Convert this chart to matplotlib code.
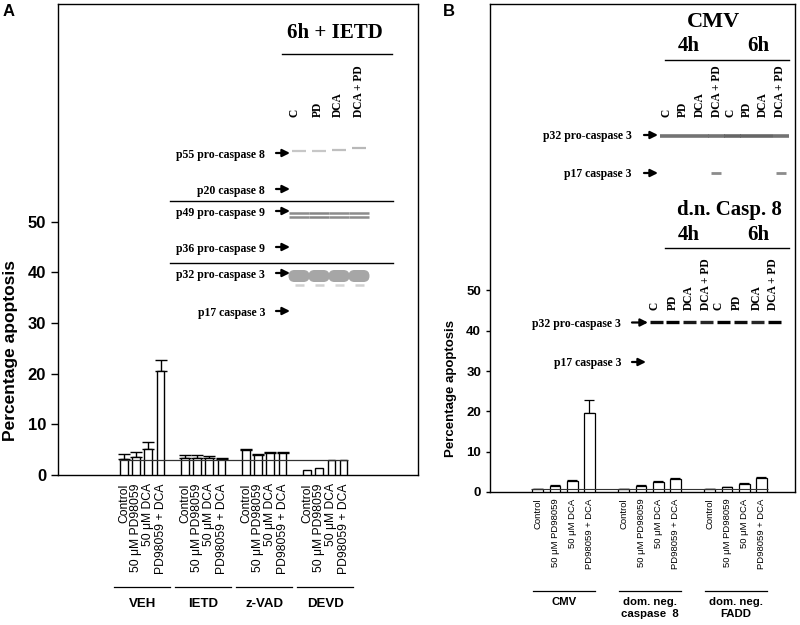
import numpy as np
import matplotlib.pyplot as plt
from matplotlib.patches import FancyBboxPatch
import matplotlib.transforms as mtransforms

plt.rcParams['font.family'] = ['Liberation Sans', 'DejaVu Sans']
SERIF = ['Liberation Serif', 'DejaVu Serif']

# ---- bar data ----
treatments = ['Control', '50 \u03bcM PD98059', '50 \u03bcM DCA', 'PD98059 + DCA']

groups_a = ['VEH', 'IETD', 'z-VAD', 'DEVD']
apop_a = [[3.1, 3.5, 5.2, 20.5],
          [3.3, 3.3, 3.3, 3.15],
          [4.9, 4.0, 4.4, 4.25],
          [1.0, 1.3, 2.9, 2.9]]
err_a = [[1.0, 0.95, 1.4, 2.2],
         [0.6, 0.6, 0.5, 0.15],
         [0.3, 0.1, 0.1, 0.2],
         [0.0, 0.0, 0.0, 0.0]]
ref_a = 2.95

groups_b = ['CMV', 'dom. neg.\ncaspase  8', 'dom. neg.\nFADD']
apop_b = [[0.75, 1.4, 2.7, 19.7],
          [0.75, 1.55, 2.6, 3.3],
          [0.75, 1.15, 2.1, 3.5]]
err_b = [[0.05, 0.35, 0.2, 3.2],
         [0.05, 0.25, 0.15, 0.1],
         [0.05, 0.2, 0.1, 0.1]]
ref_b = 0.7

# ---- blot data (relative band darkness per lane) ----
lanes_a = ['C', 'PD', 'DCA', 'DCA + PD']
rows_a = ['p55 pro-caspase 8', 'p20 caspase 8', 'p49 pro-caspase 9',
          'p36 pro-caspase 9', 'p32 pro-caspase 3', 'p17 caspase 3']
p55_a = [0.22, 0.22, 0.25, 0.28]
p49_a = [0.45, 0.48, 0.45, 0.45]
p32_a = [0.35, 0.35, 0.35, 0.35]
p32low_a = [0.18, 0.18, 0.16, 0.18]

lanes_b = ['C', 'PD', 'DCA', 'DCA + PD'] * 2
p32_cmv = [0.55, 0.55, 0.55, 0.55, 0.6, 0.6, 0.6, 0.55]
p17_cmv = [0, 0, 0, 0.45, 0, 0, 0, 0.45]
p32_dn8 = [0.95, 1.0, 0.9, 0.85, 1.0, 0.95, 0.85, 1.0]


def draw_bars(ax, values, errors, ref, width, capsize, lw, fsize, pad):
    ticks = []
    for g, vals in enumerate(values):
        pos = g * 5 + np.arange(len(vals))
        ax.bar(pos, vals, width, color='white', edgecolor='black', linewidth=lw, zorder=3)
        e = np.array(errors[g])
        keep = e > 0
        ax.errorbar(pos[keep], np.array(vals)[keep], yerr=[np.zeros(keep.sum()), e[keep]],
                    fmt='none', ecolor='black', elinewidth=lw, capsize=capsize,
                    capthick=lw, zorder=2)
        ticks.extend(pos)
    ax.hlines(ref, -0.4, ticks[-1] + 0.4, color='#333333', lw=lw * 0.9, zorder=4)
    ax.set_xticks(ticks)
    ax.set_xticklabels(treatments * len(values), rotation=90, fontsize=fsize)
    ax.tick_params(axis='x', length=0, pad=pad)
    ax.set_yticks(range(0, 51, 10))
    for s in ax.spines.values():
        s.set_linewidth(1.0)


def group_labels(ax, names, line_y, text_y, half, fsize):
    tr = mtransforms.blended_transform_factory(ax.transData, ax.transAxes)
    for g, name in enumerate(names):
        c = g * 5 + 1.5
        ax.plot([c - half, c + half], [line_y, line_y], color='black', lw=0.9,
                transform=tr, clip_on=False)
        ax.text(c, text_y, name, transform=tr, ha='center', va='top', fontsize=fsize,
                fontweight='bold', linespacing=1.3)


fig = plt.figure(figsize=(8, 6.25), dpi=100)

# ---- panel A ----
axA = fig.add_axes([58 / 800, 150 / 625, 360 / 800, 471 / 625])
draw_bars(axA, apop_a, err_a, ref_a, 0.63, 4.5, 1.0, 8.7, 6)
axA.set_xlim(-5.4, 24.1)
axA.set_ylim(0, 93)
axA.tick_params(axis='y', length=5, width=1, pad=3.5, labelsize=12)
for t in axA.get_yticklabels():
    t.set_fontweight('bold')
axA.set_ylabel('Percentage apoptosis', fontsize=12.5, fontweight='bold')
axA.yaxis.set_label_coords(-0.11, 0.265)
group_labels(axA, groups_a, -0.238, -0.262, 2.3, 9.5)

# ---- panel B ----
axB = fig.add_axes([490 / 800, 133 / 625, 305 / 800, 488 / 625])
draw_bars(axB, apop_b, err_b, ref_b, 0.63, 3.5, 0.9, 6.8, 4.5)
axB.set_xlim(-2.78, 14.95)
axB.set_ylim(0, 121)
axB.tick_params(axis='y', length=3, width=1, pad=3.4, labelsize=9.5)
for t in axB.get_yticklabels():
    t.set_fontweight('bold')
axB.set_ylabel('Percentage apoptosis', fontsize=9.5, fontweight='bold')
axB.yaxis.set_label_coords(-0.108, 0.213)
group_labels(axB, groups_b, -0.202, -0.215, 1.8, 8.2)

fig.text(9 / 800, 1 - 12 / 625, 'A', fontsize=12, fontweight='bold', ha='center', va='center')
fig.text(449 / 800, 1 - 12 / 625, 'B', fontsize=12, fontweight='bold', ha='center', va='center')

# ---- blot overlay (pixel coordinates) ----
ov = fig.add_axes([0, 0, 1, 1], zorder=5)
ov.set_xlim(0, 800)
ov.set_ylim(625, 0)
ov.axis('off')
ov.patch.set_alpha(0)


def gray(level):
    v = 1 - level
    return (v, v, v)


def arrow(x0, x1, y):
    ov.annotate('', xy=(x1, y), xytext=(x0, y),
                arrowprops=dict(arrowstyle='-|>', color='black', lw=1.6, mutation_scale=11,
                                shrinkA=0, shrinkB=0))


def row_label(text, x_right, y, fsize=8.5):
    ov.text(x_right, y, text, ha='right', va='center', fontsize=fsize, fontweight='bold',
            family=SERIF)


def lane_labels(names, xs, y_bottom, fsize=8.3):
    for name, x in zip(names, xs):
        ov.text(x, y_bottom, name, rotation=90, ha='center', va='bottom', fontsize=fsize,
                fontweight='bold', family=SERIF)


def bands(xs, levels, y, w, h, dy=None, rounded=False):
    for i, (x, lv) in enumerate(zip(xs, levels)):
        if lv <= 0:
            continue
        yy = y + (dy[i] if dy is not None else 0)
        if rounded:
            p = FancyBboxPatch((x - w / 2, yy - h / 2), w, h,
                               boxstyle='round,pad=0,rounding_size=%.1f' % (h / 2),
                               fc=gray(lv), ec='none')
            ov.add_patch(p)
        else:
            ov.plot([x - w / 2, x + w / 2], [yy, yy], color=gray(lv), lw=h,
                    solid_capstyle='butt')


# panel A blot
xa = [299, 319, 339, 359]
ov.text(335, 33, '6h + IETD', ha='center', va='center', fontsize=15, fontweight='bold',
        family=SERIF)
ov.plot([282, 392], [54, 54], color='black', lw=1)
lane_labels(lanes_a, [295, 318, 338, 359], 117)
row_y_a = [155, 191, 213, 249, 275, 313]
for name, y in zip(rows_a, row_y_a):
    row_label(name, 265, y)
    arrow(276, 290, y - 2)
ov.plot([170, 393], [201, 201], color='black', lw=1)
ov.plot([170, 393], [263, 263], color='black', lw=1)
bands(xa, p55_a, 151, 14, 1.6, dy=[0, 0, -1, -3])
bands(xa, p49_a, 213, 20, 1.8)
bands(xa, p49_a, 217, 20, 1.8)
bands(xa, p32_a, 276, 21, 12, rounded=True)
bands(xa, p32low_a, 285, 9, 1.8)

# panel B blot, CMV
ov.text(713, 22, 'CMV', ha='center', va='center', fontsize=16, fontweight='bold', family=SERIF)
ov.text(689, 46, '4h', ha='center', va='center', fontsize=15, fontweight='bold', family=SERIF)
ov.text(758, 46, '6h', ha='center', va='center', fontsize=15, fontweight='bold', family=SERIF)
ov.plot([665, 789], [60, 60], color='black', lw=1)
lane_labels(lanes_b, [667, 683, 700, 717, 730, 747, 763, 780], 117)
xb1 = np.linspace(668, 781, 8)
row_label('p32 pro-caspase 3', 632, 136)
arrow(644, 658, 135)
bands(xb1, p32_cmv, 135.5, 16.5, 2.6)
row_label('p17 caspase 3', 632, 174)
arrow(644, 658, 173)
bands(xb1, p17_cmv, 173, 10, 2.0)

# panel B blot, d.n. caspase 8
ov.text(729, 210, 'd.n. Casp. 8', ha='center', va='center', fontsize=15, fontweight='bold',
        family=SERIF)
ov.text(689, 235, '4h', ha='center', va='center', fontsize=15, fontweight='bold', family=SERIF)
ov.text(758, 235, '6h', ha='center', va='center', fontsize=15, fontweight='bold', family=SERIF)
ov.plot([665, 789], [248, 248], color='black', lw=1)
lane_labels(lanes_b, [655, 673, 689, 706, 719, 737, 757, 773], 310)
xb2 = np.linspace(656, 774, 8)
row_label('p32 pro-caspase 3', 621, 324)
arrow(632, 648, 322.5)
bands(xb2, p32_dn8, 322, 13, 2.4)
row_label('p17 caspase 3', 621, 363)
arrow(632, 646, 362)

fig.savefig('out.png', dpi=100)
